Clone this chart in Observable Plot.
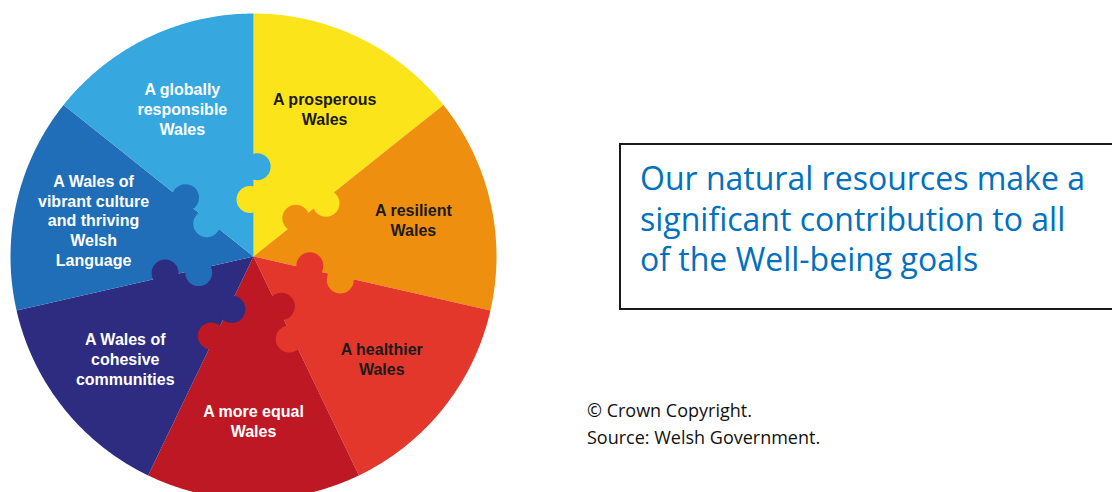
<!DOCTYPE html>
<html>
<head>
<meta charset="utf-8">
<script src="https://cdn.jsdelivr.net/npm/d3@7"></script>
<script src="https://cdn.jsdelivr.net/npm/@observablehq/plot@0.6"></script>
<style>
  html, body { margin: 0; padding: 0; background: #fff; }
  #page { position: relative; width: 1112px; height: 492px; overflow: hidden; background: #fff; }
  #chart { position: absolute; left: 0; top: 0; }
  #box { position: absolute; left: 619px; top: 143px; width: 560px; height: 167px; border: 2px solid #1a1a1a; box-sizing: border-box; }
  #boxtext { position: absolute; left: 640px; top: 158px; font-family: "Open Sans", sans-serif; font-size: 32px; line-height: 40.5px; color: #0070C0; white-space: nowrap; }
  #credit { position: absolute; left: 587px; top: 397px; font-family: "Open Sans", sans-serif; font-size: 18px; line-height: 27px; color: #111; white-space: nowrap; }
</style>
</head>
<body>
<div id="page">
  <div id="chart"></div>
  <div id="box"></div>
  <div id="boxtext"></div>
  <div id="credit"></div>
</div>
<script>
// ---- data ----
const goals = [
  "A prosperous Wales",
  "A resilient Wales",
  "A healthier Wales",
  "A more equal Wales",
  "A Wales of cohesive communities",
  "A Wales of vibrant culture and thriving Welsh Language",
  "A globally responsible Wales"
];
const labelLines = [
  "A prosperous\nWales",
  "A resilient\nWales",
  "A healthier\nWales",
  "A more equal\nWales",
  "A Wales of\ncohesive\ncommunities",
  "A Wales of\nvibrant culture\nand thriving\nWelsh\nLanguage",
  "A globally\nresponsible\nWales"
];
const shares = [1, 1, 1, 1, 1, 1, 1]; // seven equal goals
const statementLines = [
  "Our natural resources make a",
  "significant contribution to all",
  "of the Well-being goals"
];
const creditLines = ["© Crown Copyright.", "Source: Welsh Government."];

// ---- styles ----
const palette = ["#FBE41A", "#EF8F10", "#E4372B", "#BD1823", "#2D2C80", "#1F6EB7", "#36A8DF"];
const labelInk = ["#1a1a1a", "#1a1a1a", "#1a1a1a", "#ffffff", "#ffffff", "#ffffff", "#ffffff"];

// ---- geometry: pie on a polar azimuthal projection (lon = angle, colatitude = radius) ----
const pie = d3.pie().sort(null)(shares);
const deg = r => r * 180 / Math.PI;
const lonOf = theta => 180 - theta;      // screen angle (clockwise from top) -> longitude
const latOf = frac => 90 - 90 * frac;    // radial fraction -> latitude

const slices = pie.map((p, i) => {
  const a = deg(p.startAngle), b = deg(p.endAngle);
  const lonA = lonOf(b), lonB = lonOf(a);
  const ring = [[lonA, 89.99], [lonB, 89.99]];
  const n = 80;
  for (let k = 0; k <= n; k++) ring.push([lonB - (lonB - lonA) * k / n, 0]);
  ring.push([lonA, 89.99]);
  return {type: "Feature", properties: {goal: goals[i]}, geometry: {type: "Polygon", coordinates: [ring]}};
});

const labelFrac = 0.675;
const labels = pie.map((p, i) => ({
  goal: goals[i],
  text: labelLines[i],
  ink: labelInk[i],
  lon: lonOf(deg((p.startAngle + p.endAngle) / 2)),
  lat: latOf(labelFrac)
}));

// puzzle tabs on each boundary
const knobs = [];
pie.forEach((p, i) => {
  const beta = deg(p.startAngle);
  knobs.push({goal: goals[i], lon: lonOf(beta - 3.5), lat: latOf(0.235)});
  knobs.push({goal: goals[(i + goals.length - 1) % goals.length], lon: lonOf(beta + 2.3), lat: latOf(0.37)});
});

const outline = d3.geoCircle().center([0, 90]).radius(90).precision(1)();

const chart = Plot.plot({
  width: 1112,
  height: 500,
  marginLeft: 10,
  marginRight: 616,
  marginTop: 13,
  marginBottom: 1,
  projection: {type: "azimuthal-equidistant", rotate: [0, -90], domain: outline},
  color: {domain: goals, range: palette},
  marks: [
    Plot.geo(slices, {fill: d => d.properties.goal}),
    Plot.dot(knobs, {x: "lon", y: "lat", r: 13.5, fill: "goal"}),
    Plot.text(labels, {
      x: "lon", y: "lat", text: "text", fill: "ink",
      fontFamily: "Liberation Sans, Arial, sans-serif", fontWeight: "bold",
      fontSize: 16, lineHeight: 1.23
    })
  ]
});
document.getElementById("chart").appendChild(chart);

document.getElementById("boxtext").innerHTML = statementLines.join("<br>");
document.getElementById("credit").innerHTML = creditLines.join("<br>");
</script>
</body>
</html>
